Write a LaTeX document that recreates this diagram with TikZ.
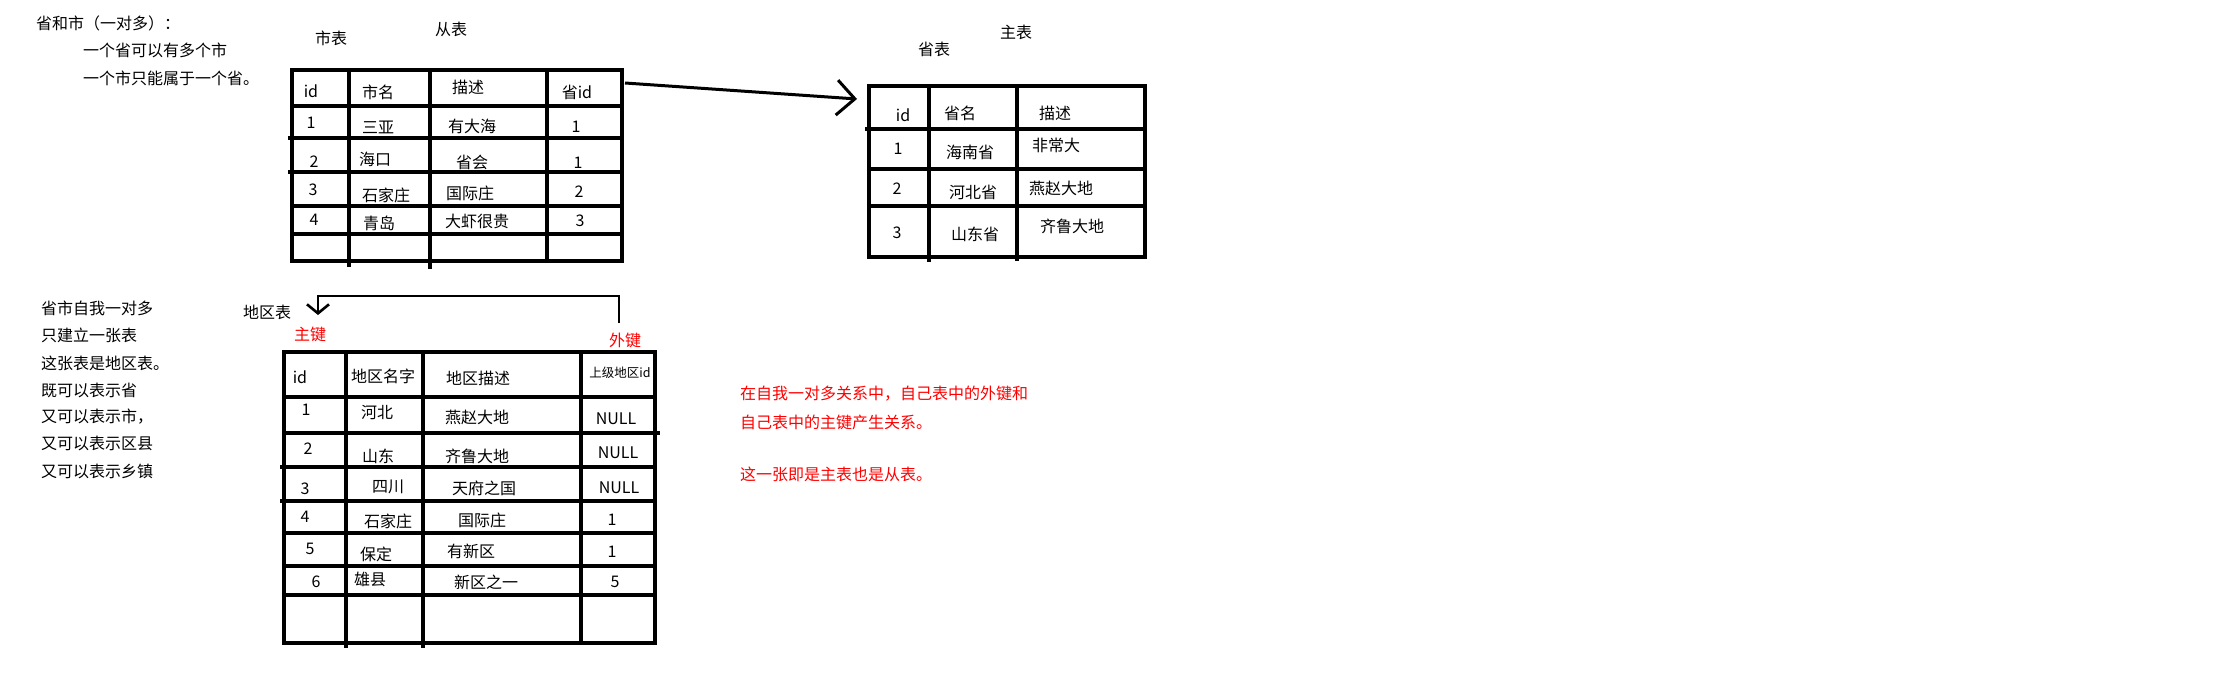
\documentclass[tikz,border=0pt]{standalone}
\usepackage{fontspec}
\newfontfamily\cjk{Noto Sans CJK SC}
\usetikzlibrary{arrows.meta}
\begin{document}
\begin{tikzpicture}[x=1pt,y=-1pt,
  txt/.style={inner sep=0pt, font=\cjk\fontsize{16}{16}\selectfont},
  lt/.style={txt, anchor=west},
  redtxt/.style={txt, text=red},
  smalltxt/.style={inner sep=0pt, font=\cjk\fontsize{12.5}{12.5}\selectfont},
  gridA/.style={line width=3.5pt, line cap=rect},
  gridB/.style={line width=3.2pt, line cap=rect},
  bigarrow/.style={line width=3pt, -{Straight Barb[length=18pt,width=35pt]}},
  selfarrow/.style={line width=2.6pt, -{Straight Barb[length=9pt,width=22pt]}}]
\path[fill=white,use as bounding box] (0,0) rectangle (2220,683);

% ---- top left notes
\node[lt] (n1) at (36,23) {省和市（一对多）：};
\node[lt] (n2) at (83,50) {一个省可以有多个市};
\node[lt] (n3) at (83,78) {一个市只能属于一个省。};

% ---- city table
\node[txt] (cityT) at (331,38) {市表};
\node[txt] (slaveT) at (451,29) {从表};
\draw[gridA] (292,70) rectangle (622,261);
\draw[gridA] (349,70) -- (349,265);
\draw[gridA] (430,70) -- (430,267);
\draw[gridA] (547,70) -- (547,261);
\draw[gridA] (292,106) -- (622,106);
\draw[gridA] (290,138) -- (622,138);
\draw[gridA] (290,172) -- (622,172);
\draw[gridA] (292,206) -- (622,206);
\draw[gridA] (292,234) -- (622,234);
\node[txt] (c00) at (311,91) {id};
\node[txt] (c01) at (378,92) {市名};
\node[txt] (c02) at (468,87) {描述};
\node[txt] (c03) at (577,92) {省id};
\node[txt] (c10) at (311,123) {1};
\node[txt] (c11) at (378,127) {三亚};
\node[txt] (c12) at (472,126) {有大海};
\node[txt] (c13) at (576,127) {1};
\node[txt] (c20) at (314,162) {2};
\node[txt] (c21) at (375,159) {海口};
\node[txt] (c22) at (472,162) {省会};
\node[txt] (c23) at (578,163) {1};
\node[txt] (c30) at (313,190) {3};
\node[txt] (c31) at (386,195) {石家庄};
\node[txt] (c32) at (470,193) {国际庄};
\node[txt] (c33) at (579,192) {2};
\node[txt] (c40) at (314,220) {4};
\node[txt] (c41) at (379,223) {青岛};
\node[txt] (c42) at (477,221) {大虾很贵};
\node[txt] (c43) at (580,221) {3};

% ---- province table
\node[txt] (masterT) at (1016,32) {主表};
\node[txt] (provT) at (934,49) {省表};
\draw[gridA] (869,86) rectangle (1145,257);
\draw[gridA] (929,86) -- (929,260);
\draw[gridA] (1017,86) -- (1017,259);
\draw[gridA] (867,129) -- (1145,129);
\draw[gridA] (869,169) -- (1145,169);
\draw[gridA] (869,206) -- (1145,206);
\node[txt] (p00) at (903,115) {id};
\node[txt] (p01) at (960,113) {省名};
\node[txt] (p02) at (1055,113) {描述};
\node[txt] (p10) at (898,149) {1};
\node[txt] (p11) at (970,152) {海南省};
\node[txt] (p12) at (1056,145) {非常大};
\node[txt] (p20) at (897,189) {2};
\node[txt] (p21) at (973,192) {河北省};
\node[txt] (p22) at (1061,188) {燕赵大地};
\node[txt] (p30) at (897,233) {3};
\node[txt] (p31) at (975,234) {山东省};
\node[txt] (p32) at (1072,226) {齐鲁大地};

% ---- arrow city -> province
\coordinate (a1s) at (625,83);
\coordinate (a1e) at (857,99);
\draw[bigarrow] (a1s) -- (a1e);

% ---- lower left notes
\node[lt] (m1) at (41,308) {省市自我一对多};
\node[lt] (m2) at (41,335) {只建立一张表};
\node[lt] (m3) at (41,363) {这张表是地区表。};
\node[lt] (m4) at (41,390) {既可以表示省};
\node[lt] (m5) at (41,417) {又可以表示市，};
\node[lt] (m6) at (41,443) {又可以表示区县};
\node[lt] (m7) at (41,471) {又可以表示乡镇};

% ---- region table
\node[txt] (regT) at (267,312) {地区表};
\node[redtxt] (pk) at (310,334) {主键};
\node[redtxt] (fk) at (625,340) {外键};
\coordinate (fkTop) at (619,323);
\coordinate (pkTip) at (318,315);
\draw[selfarrow] (fkTop) -- (619,296) -| (pkTip);

\draw[gridB] (284,352) rectangle (655,643);
\draw[gridB] (346,352) -- (346,646);
\draw[gridB] (423,352) -- (423,646);
\draw[gridB] (581,355) -- (581,643);
\draw[gridB] (284,397) -- (655,397);
\draw[gridB] (284,433) -- (658,433);
\draw[gridB] (282,467) -- (655,467);
\draw[gridB] (282,501) -- (655,501);
\draw[gridB] (284,533) -- (655,533);
\draw[gridB] (284,566) -- (655,566);
\draw[gridB] (284,595) -- (655,595);
\node[txt] (r00) at (300,377) {id};
\node[txt] (r01) at (383,376) {地区名字};
\node[txt] (r02) at (478,378) {地区描述};
\node[smalltxt] (r03) at (620,373) {上级地区id};
\node[txt] (r10) at (306,410) {1};
\node[txt] (r11) at (377,413) {河北};
\node[txt] (r12) at (477,417) {燕赵大地};
\node[txt] (r13) at (616,419) {NULL};
\node[txt] (r20) at (308,449) {2};
\node[txt] (r21) at (378,456) {山东};
\node[txt] (r22) at (477,456) {齐鲁大地};
\node[txt] (r23) at (618,453) {NULL};
\node[txt] (r30) at (305,489) {3};
\node[txt] (r31) at (388,487) {四川};
\node[txt] (r32) at (484,488) {天府之国};
\node[txt] (r33) at (619,488) {NULL};
\node[txt] (r40) at (305,517) {4};
\node[txt] (r41) at (388,521) {石家庄};
\node[txt] (r42) at (482,520) {国际庄};
\node[txt] (r43) at (612,520) {1};
\node[txt] (r50) at (310,549) {5};
\node[txt] (r51) at (376,554) {保定};
\node[txt] (r52) at (471,551) {有新区};
\node[txt] (r53) at (612,552) {1};
\node[txt] (r60) at (316,582) {6};
\node[txt] (r61) at (370,579) {雄县};
\node[txt] (r62) at (486,582) {新区之一};
\node[txt] (r63) at (615,582) {5};

% ---- red explanation
\node[redtxt, anchor=west] (e1) at (740,394) {在自我一对多关系中，自己表中的外键和};
\node[redtxt, anchor=west] (e2) at (740,422) {自己表中的主键产生关系。};
\node[redtxt, anchor=west] (e3) at (740,474) {这一张即是主表也是从表。};
\end{tikzpicture}
\end{document}
